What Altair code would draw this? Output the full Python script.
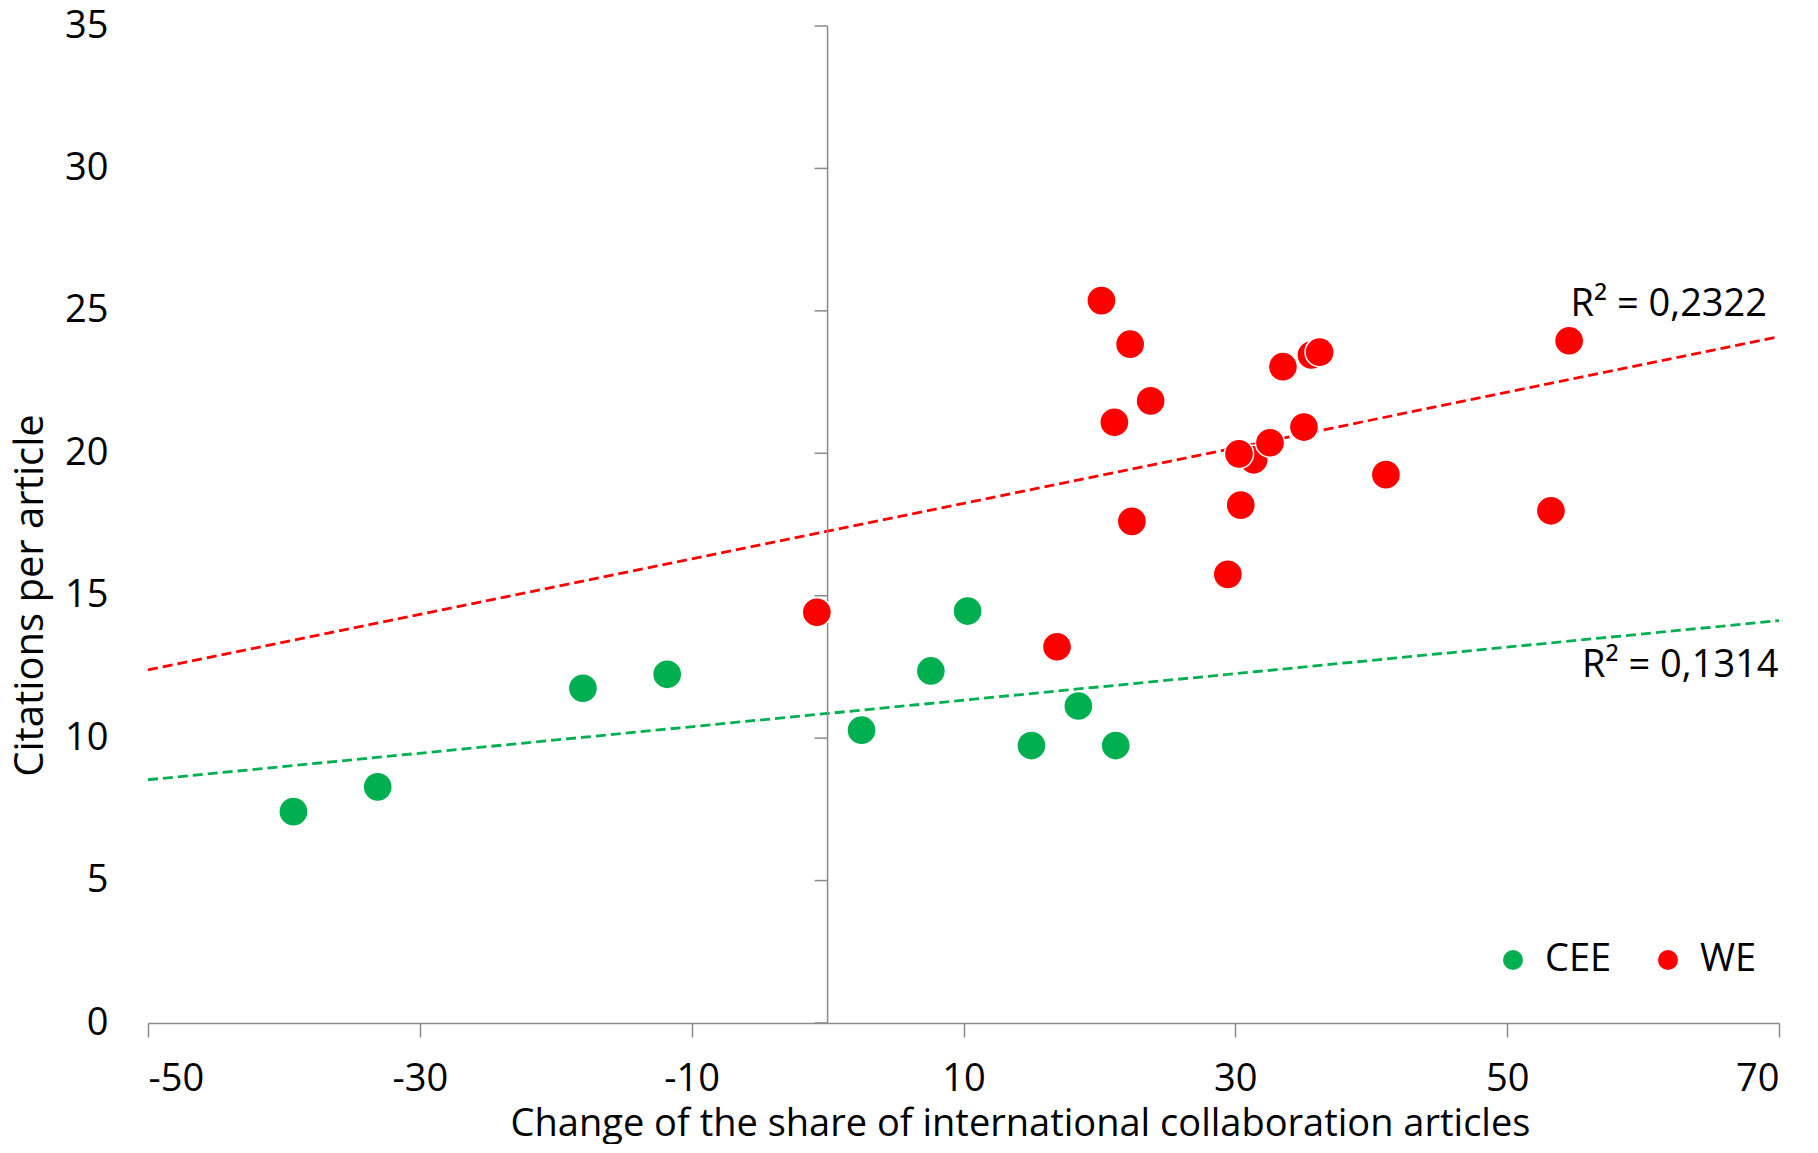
import altair as alt
import pandas as pd

# ---- data ----
groups = ["CEE", "WE"]
colors = ["#00B050", "#FF0000"]

cee_x = [-39.3, -33.1, -18.0, -11.8, 2.5, 7.6, 10.3, 15.0, 18.45, 21.2]
cee_y = [7.42, 8.29, 11.75, 12.24, 10.28, 12.36, 14.46, 9.74, 11.13, 9.74]

we_x = [-0.79, 16.88, 20.15, 22.26, 23.77, 21.10, 22.39, 29.45, 30.40, 31.35,
        30.27, 32.55, 35.05, 33.50, 35.6, 36.2, 41.08, 53.22, 54.56]
we_y = [14.42, 13.21, 25.36, 23.83, 21.84, 21.09, 17.61, 15.75, 18.18, 19.77,
        19.98, 20.37, 20.92, 23.04, 23.45, 23.55, 19.25, 17.98, 23.95]

r2_labels = ["R\u00b2 = 0,1314", "R\u00b2 = 0,2322"]
r2_x = [69.97, 69.12]
r2_y = [12.53, 25.19]

x_ticks = [-50, -30, -10, 10, 30, 50, 70]
y_ticks = [0, 5, 10, 15, 20, 25, 30, 35]
y_axis_at = [0]

x_title = "Change of the share of international collaboration articles"
y_title = "Citations per article"

FONT = "Open Sans"
AXIS_GRAY = "#8a8a8a"

df = pd.DataFrame({
    "x": cee_x + we_x,
    "y": cee_y + we_y,
    "group": [groups[0]] * len(cee_x) + [groups[1]] * len(we_x),
    "order": list(range(len(cee_x) + len(we_x))),
})
txt_df = pd.DataFrame({"x": r2_x, "y": r2_y, "label": r2_labels})
yt_df = pd.DataFrame({"y": y_ticks})
vline_df = pd.DataFrame({"x": y_axis_at})

x_scale = alt.Scale(domain=[x_ticks[0], x_ticks[-1]], nice=False, zero=False)
y_scale = alt.Scale(domain=[y_ticks[0], y_ticks[-1]], nice=False, zero=False)
color_scale = alt.Scale(domain=groups, range=colors)

x_axis = alt.Axis(
    values=x_ticks, title=x_title, grid=False,
    labelExpr="'' + datum.value",
    domainColor=AXIS_GRAY, domainWidth=1.5,
    tickColor=AXIS_GRAY, tickWidth=1.5, tickSize=14,
    labelFont=FONT, labelFontSize=38, labelColor="black",
    labelBaseline="middle", labelPadding=42,
    titleFont=FONT, titleFontSize=38, titleFontWeight="normal", titleColor="black",
    titleX=872, titleY=101, titleBaseline="middle", titleAlign="center",
)
y_axis = alt.Axis(
    values=y_ticks, title=y_title, grid=False, domain=False,
    ticks=False, tickSize=0,
    labelFont=FONT, labelFontSize=38, labelColor="black",
    labelPadding=40, labelAlign="right", labelBaseline="middle",
    titleFont=FONT, titleFontSize=40, titleFontWeight="normal", titleColor="black",
    titleX=-118, titleY=569, titleBaseline="middle", titleAlign="center", titleAngle=270,
)

base = alt.Chart(df)

lines = base.transform_regression(
    "x", "y", groupby=["group"], extent=[x_ticks[0], x_ticks[-1]]
).mark_line(strokeDash=[10, 5], strokeWidth=2.8).encode(
    x=alt.X("x:Q", scale=x_scale, axis=x_axis),
    y=alt.Y("y:Q", scale=y_scale, axis=y_axis),
    color=alt.Color("group:N", scale=color_scale, legend=None),
)

vline = alt.Chart(vline_df).mark_rule(color=AXIS_GRAY, strokeWidth=1.5).encode(
    x=alt.X("x:Q", scale=x_scale),
    y=alt.datum(y_ticks[0]),
    y2=alt.datum(y_ticks[-1]),
)

vticks = alt.Chart(yt_df).mark_rule(color=AXIS_GRAY, strokeWidth=1.5, x2Offset=-13).encode(
    x=alt.datum(y_axis_at[0]),
    x2=alt.datum(y_axis_at[0]),
    y=alt.Y("y:Q", scale=y_scale),
)

points = base.mark_circle(size=850, opacity=1, stroke="white", strokeWidth=1.5).encode(
    x=alt.X("x:Q", scale=x_scale),
    y=alt.Y("y:Q", scale=y_scale),
    color=alt.Color(
        "group:N", scale=color_scale,
        legend=alt.Legend(
            title=None, orient="none", direction="horizontal",
            legendX=1346, legendY=915, padding=0,
            symbolType="circle", symbolSize=400, symbolStrokeWidth=0,
            symbolOpacity=1,
            labelFont=FONT, labelFontSize=38, labelColor="black",
            labelOffset=13, columnPadding=37,
        ),
    ),
    order=alt.Order("order:Q"),
)

texts = alt.Chart(txt_df).mark_text(
    align="right", baseline="middle", font=FONT, fontSize=38, color="black"
).encode(
    x=alt.X("x:Q", scale=x_scale),
    y=alt.Y("y:Q", scale=y_scale),
    text="label:N",
)

chart = alt.layer(lines, vline, vticks, points, texts).resolve_legend(
    color="independent"
).properties(
    width=1631, height=997,
    autosize=alt.AutoSizeParams(type="none"),
    padding={"left": 140, "top": 18, "right": 30, "bottom": 121},
    background="white",
).configure_view(strokeWidth=0)

chart.save("out.html", embed_options={"renderer": "svg", "actions": False})
